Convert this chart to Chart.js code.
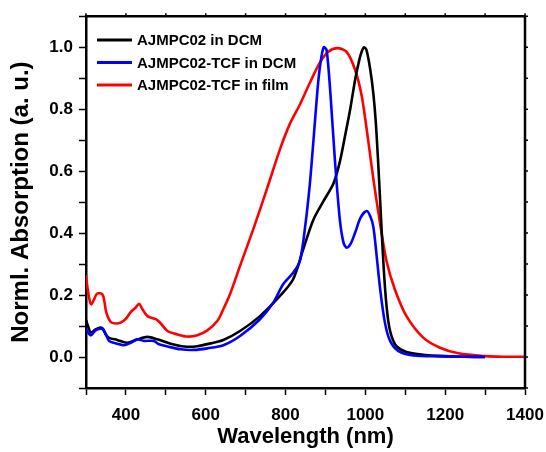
<!DOCTYPE html>
<html>
<head>
<meta charset="utf-8">
<script src="https://cdn.jsdelivr.net/npm/chart.js@4"></script>
<style>
html,body{margin:0;padding:0;background:#fff;}
#wrap{width:546px;height:452px;position:relative;}
</style>
</head>
<body>
<div id="wrap"><canvas id="c" width="546" height="452"></canvas></div>
<script>
// ---- data ----
const seriesLabels = ["AJMPC02 in DCM", "AJMPC02-TCF in DCM", "AJMPC02-TCF in film"];
const seriesColors = ["#000000", "#0000ff", "#ff0000"];

const blackX = [300,305,312,324,337,343,350,358,378,403,429,454,479,512,546,579,612,644,686,736,786,819,844,870,895,920,936,950,962,975,985,992,997,1003,1012,1020,1026,1032,1038,1044,1050,1057,1065,1078,1103,1150,1200,1250,1300];
const blackY = [0.12,0.10,0.079,0.089,0.095,0.09,0.072,0.062,0.055,0.046,0.057,0.065,0.057,0.043,0.034,0.035,0.044,0.055,0.084,0.132,0.197,0.251,0.347,0.444,0.503,0.56,0.63,0.72,0.80,0.90,0.96,0.99,1.0,0.99,0.93,0.85,0.76,0.63,0.48,0.33,0.21,0.12,0.07,0.035,0.016,0.006,0.003,0.001,0.0];

const blueX = [300,305,312,324,337,343,350,358,378,395,412,429,445,470,483,504,537,571,604,644,686,736,769,794,819,836,849,861,870,882,890,896,903,913,924,936,945,953,963,974,988,1003,1012,1020,1028,1037,1049,1062,1083,1120,1187,1250,1300];
const blueY = [0.09,0.08,0.07,0.086,0.091,0.088,0.072,0.052,0.043,0.038,0.046,0.057,0.052,0.052,0.041,0.034,0.025,0.023,0.028,0.038,0.068,0.122,0.175,0.235,0.272,0.31,0.42,0.56,0.70,0.89,0.97,1.0,0.99,0.84,0.63,0.444,0.37,0.353,0.365,0.40,0.45,0.471,0.455,0.42,0.33,0.22,0.111,0.052,0.019,0.005,0.002,0.001,0.0];

const redX = [300,302,308,313,320,328,341,346,351,362,375,387,399,412,424,433,441,454,475,487,504,529,554,579,604,629,644,660,686,719,753,786,810,836,861,886,907,930,953,974,991,1007,1020,1037,1053,1074,1103,1145,1187,1233,1300,1350,1400];
const redY = [0.265,0.24,0.19,0.17,0.185,0.205,0.202,0.18,0.143,0.113,0.108,0.111,0.122,0.145,0.159,0.172,0.155,0.132,0.122,0.109,0.084,0.073,0.066,0.07,0.086,0.116,0.154,0.2,0.294,0.412,0.541,0.67,0.75,0.815,0.885,0.95,0.985,0.997,0.985,0.928,0.842,0.70,0.575,0.43,0.31,0.218,0.132,0.0626,0.030,0.012,0.003,0.001,0.001];

const xTickLabels = [400, 600, 800, 1000, 1200, 1400];
const yTickLabels = ["0.0", "0.2", "0.4", "0.6", "0.8", "1.0"];
const xTitle = "Wavelength (nm)";
const yTitle = "Norml. Absorption (a. u.)";

// ---- build ----
function pts(xs, ys){ return xs.map((x,i)=>({x:x, y:ys[i]})); }
const seriesData = [pts(blackX,blackY), pts(blueX,blueY), pts(redX,redY)];

const FONT = "'Liberation Sans', Arial, sans-serif";

const datasets = seriesData.map((d,i)=>({
  label: seriesLabels[i],
  data: d,
  borderColor: seriesColors[i],
  backgroundColor: seriesColors[i],
  borderWidth: 2.6,
  pointRadius: 0,
  fill: false,
  showLine: true,
  tension: 0.3,
  order: i === 0 ? 2 : (i === 1 ? 1 : 3)
}));

const frame = {
  id: 'frame',
  afterDatasetsDraw(chart){
    const {ctx, chartArea:a, scales} = chart;
    ctx.save();
    ctx.strokeStyle = '#000';
    ctx.lineWidth = 2.5;
    ctx.beginPath();
    ctx.moveTo(a.left, a.top); ctx.lineTo(a.right, a.top);
    ctx.moveTo(a.right, a.top); ctx.lineTo(a.right, a.bottom);
    ctx.stroke();
    ctx.lineWidth = 1.5;
    ctx.beginPath();
    scales.x.ticks.forEach(t=>{
      const px = scales.x.getPixelForValue(t.value);
      ctx.moveTo(px, a.top); ctx.lineTo(px, a.top-3);
    });
    scales.y.ticks.forEach(t=>{
      const py = scales.y.getPixelForValue(t.value);
      ctx.moveTo(a.right, py); ctx.lineTo(a.right+3, py);
    });
    ctx.stroke();
    // legend
    const lx0 = 97, lx1 = 132, tx = 137, y0 = 40, dy = 22.5;
    ctx.font = "bold 15px " + FONT;
    ctx.textBaseline = 'middle';
    ctx.textAlign = 'left';
    chart.data.datasets.forEach((ds,i)=>{
      const y = y0 + i*dy;
      ctx.strokeStyle = ds.borderColor;
      ctx.lineWidth = 3;
      ctx.beginPath(); ctx.moveTo(lx0, y); ctx.lineTo(lx1, y); ctx.stroke();
      ctx.fillStyle = '#000';
      ctx.fillText(ds.label, tx, y + 1);
    });
    ctx.restore();
  }
};

new Chart(document.getElementById('c'), {
  type: 'scatter',
  data: { datasets },
  options: {
    responsive: false,
    animation: false,
    devicePixelRatio: 1,
    layout: { padding: { top: 15, right: 21, left: 0, bottom: 0 } },
    plugins: { legend: { display: false }, tooltip: { enabled: false } },
    scales: {
      x: {
        type: 'linear',
        min: 300, max: 1400,
        afterFit(s){ s.height = 64; s.paddingRight = 0; s.paddingLeft = 0; },
        border: { display: true, color: '#000', width: 2.5 },
        grid: { display: true, drawOnChartArea: false, drawTicks: true, tickLength: 7, tickColor: '#000', tickWidth: 1.5 },
        ticks: {
          stepSize: 100,
          autoSkip: false,
          maxRotation: 0,
          color: '#000',
          padding: 10,
          font: { family: FONT, size: 17, weight: 'bold' },
          callback(v){ const r = Math.round(v); return xTickLabels.includes(r) ? String(r) : ''; }
        },
        title: { display: true, text: xTitle, color: '#000', font: { family: FONT, size: 22, weight: 'bold' }, padding: { top: 0, bottom: 2 } }
      },
      y: {
        type: 'linear',
        min: -0.1, max: 1.1,
        afterFit(s){ s.width = 86; },
        border: { display: true, color: '#000', width: 2.5 },
        grid: { display: true, drawOnChartArea: false, drawTicks: true, tickLength: 7, tickColor: '#000', tickWidth: 1.5 },
        ticks: {
          stepSize: 0.1,
          autoSkip: false,
          color: '#000',
          padding: 6,
          font: { family: FONT, size: 17, weight: 'bold' },
          callback(v){ const r = Math.round(v*10); const s = (r/10).toFixed(1); return (r%2===0 && yTickLabels.includes(s)) ? s : ''; }
        },
        title: { display: true, text: yTitle, color: '#000', font: { family: FONT, size: 24, weight: 'bold' }, padding: { top: 7, bottom: 0 } }
      }
    }
  },
  plugins: [frame]
});
</script>
</body>
</html>
